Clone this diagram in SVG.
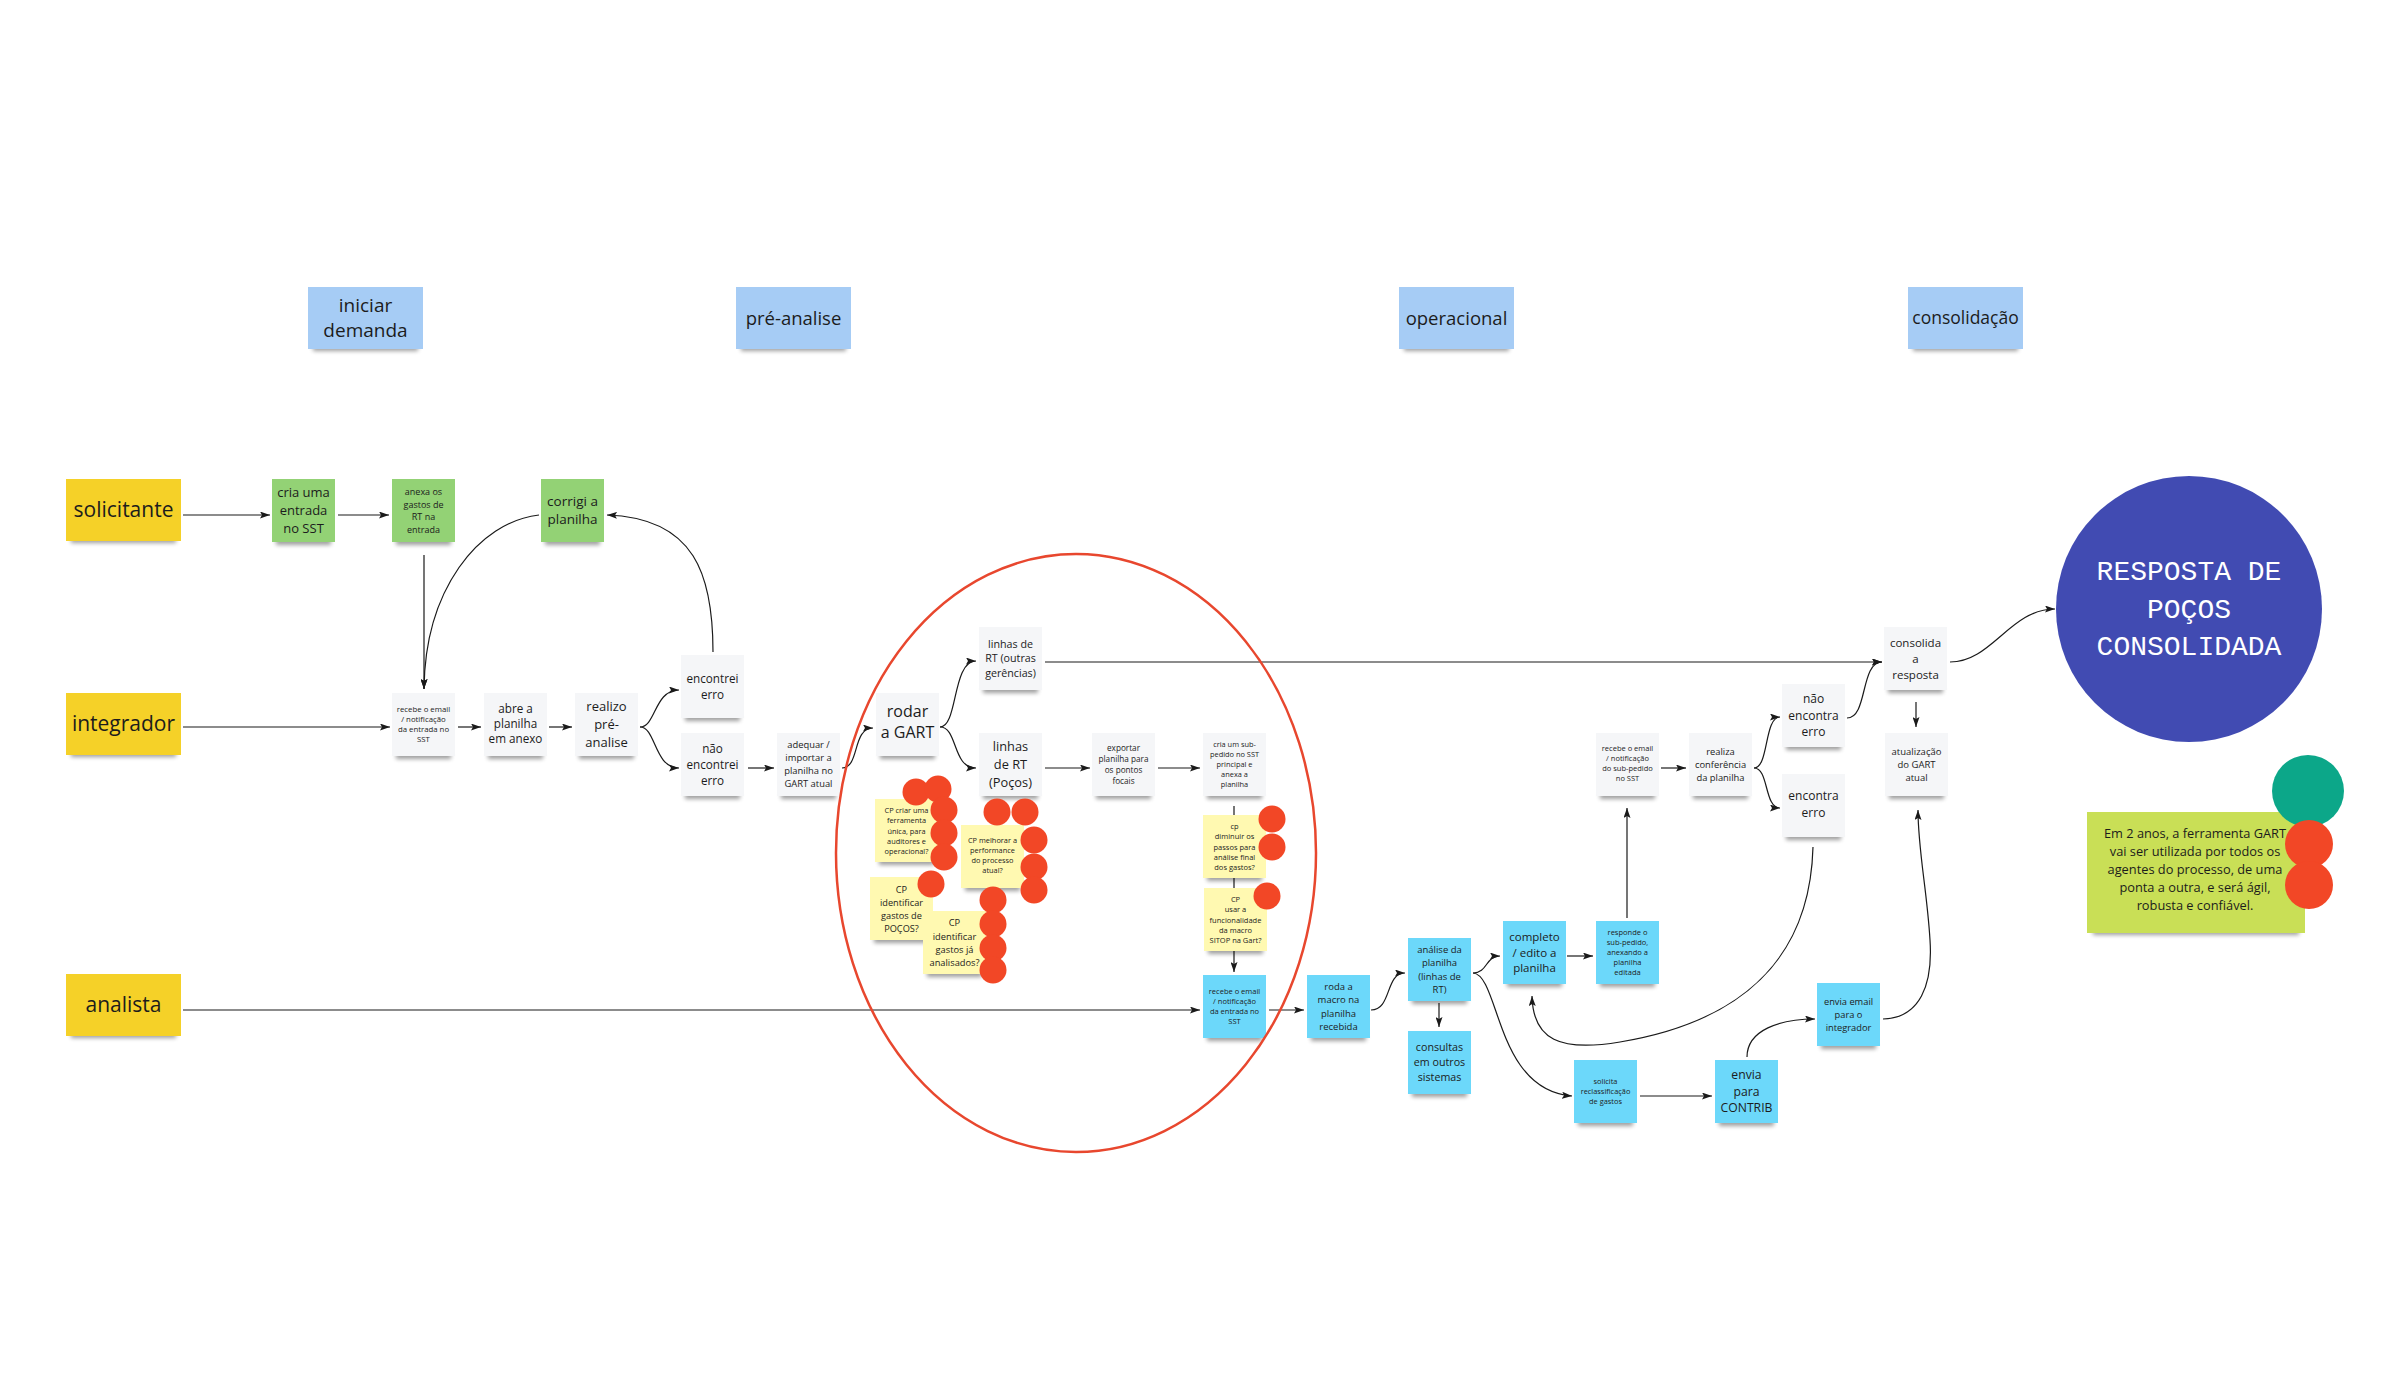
<svg xmlns="http://www.w3.org/2000/svg" width="2400" height="1400" viewBox="0 0 2400 1400">
<defs>
<style>
.t{font-family:"Open Sans","Liberation Sans",sans-serif;fill:#1c1c1c;text-anchor:middle}
.sh{fill:#000;opacity:.38;filter:url(#bl)}
.gr{fill:#f5f6f8}
.gn{fill:#93d275}
.ye{fill:#f5d128}
.hb{fill:#a6ccf5}
.cy{fill:#6cd8fa}
.ly{fill:#fff9b1}
.lm{fill:#c9df56}
.cn path,.cn line{fill:none;stroke:#1a1a1a;stroke-width:1.2;marker-end:url(#ar)}
.dot{fill:#f24726}
</style>
<filter id="bl" x="-20%" y="-100%" width="140%" height="300%"><feGaussianBlur stdDeviation="2.2"/></filter>
<marker id="ar" viewBox="0 0 10 7" refX="10" refY="3.5" markerWidth="10" markerHeight="7" markerUnits="userSpaceOnUse" orient="auto"><path d="M0,0 L10,3.5 L0,7 L2,3.5z" fill="#1a1a1a"/></marker>
</defs>
<rect width="2400" height="1400" fill="#fff"/>

<g id="connectors" class="cn">
<path d="M183,515 H270"/>
<path d="M338,515 H389"/>
<path d="M424,555 V689"/>
<path d="M539,515 C478,522 425,590 424,689"/>
<path d="M713,652 C713,575 695,518 607,515"/>
<path d="M183,727 H390"/>
<path d="M458,727 H481"/>
<path d="M549,727 H572"/>
<path d="M640,727 C656,727 654,690 679,690"/>
<path d="M640,727 C656,727 654,768 679,768"/>
<path d="M748,768 H774"/>
<path d="M842,768 C860,768 852,728 873,728"/>
<path d="M940,727 C958,727 952,661 976,661"/>
<path d="M940,727 C958,727 952,768 976,768"/>
<path d="M1045,662 H1882"/>
<path d="M1045,768 H1090"/>
<path d="M1158,768 H1200"/>
<path d="M1234,806 V972"/>
<path d="M183,1010 H1200"/>
<path d="M1269,1010 H1304"/>
<path d="M1371,1010 C1392,1010 1385,973 1405,973"/>
<path d="M1439,1003 V1027"/>
<path d="M1473,973 C1488,973 1485,956 1500,956"/>
<path d="M1473,973 C1500,975 1495,1090 1572,1096"/>
<path d="M1567,956 H1593"/>
<path d="M1627,918 V808"/>
<path d="M1661,768 H1686"/>
<path d="M1754,768 C1769,768 1764,717 1780,717"/>
<path d="M1754,768 C1769,768 1764,808 1780,808"/>
<path d="M1813,847 C1810,960 1740,1022 1620,1042 C1560,1052 1533,1040 1532,996"/>
<path d="M1847,718 C1868,718 1860,662 1882,662"/>
<path d="M1640,1096 H1712"/>
<path d="M1747,1057 C1747,1030 1780,1019 1815,1019"/>
<path d="M1883,1019 C1920,1018 1933,985 1930,940 C1927,890 1918,850 1918,810"/>
<path d="M1950,662 C1992,662 2010,609 2055,609"/>
<path d="M1916,702 V727"/>
</g>

<g id="hdr-iniciar"><rect class="sh" x="313" y="344" width="105" height="7"/><rect class="hb" x="308" y="287" width="115" height="62"/><text class="t" font-size="19"><tspan x="365.5" y="312">iniciar</tspan><tspan x="365.5" y="337">demanda</tspan></text></g>
<g id="hdr-pre"><rect class="sh" x="741" y="344" width="105" height="7"/><rect class="hb" x="736" y="287" width="115" height="62"/><text class="t" font-size="18.5" x="793.5" y="324.5">pré-analise</text></g>
<g id="hdr-oper"><rect class="sh" x="1404" y="344" width="105" height="7"/><rect class="hb" x="1399" y="287" width="115" height="62"/><text class="t" font-size="18.5" x="1456.5" y="324.5">operacional</text></g>
<g id="hdr-cons"><rect class="sh" x="1913" y="344" width="105" height="7"/><rect class="hb" x="1908" y="287" width="115" height="62"/><text class="t" font-size="17.5" x="1965.5" y="324">consolidação</text></g>

<g id="lane-solicitante"><rect class="sh" x="71" y="536" width="105" height="7"/><rect class="ye" x="66" y="479" width="115" height="62"/><text class="t" font-size="21" x="123.5" y="517">solicitante</text></g>
<g id="lane-integrador"><rect class="sh" x="71" y="750" width="105" height="7"/><rect class="ye" x="66" y="693" width="115" height="62"/><text class="t" font-size="21" x="123.5" y="731">integrador</text></g>
<g id="lane-analista"><rect class="sh" x="71" y="1031" width="105" height="7"/><rect class="ye" x="66" y="974" width="115" height="62"/><text class="t" font-size="21" x="123.5" y="1012">analista</text></g>

<g id="n-cria-entrada"><rect class="sh" x="276" y="538" width="55" height="7"/><rect class="gn" x="272" y="479" width="63" height="63"/><text class="t" font-size="13"><tspan x="303.5" y="497">cria uma</tspan><tspan x="303.5" y="515">entrada</tspan><tspan x="303.5" y="533">no SST</tspan></text></g>
<g id="n-anexa"><rect class="sh" x="396" y="538" width="55" height="7"/><rect class="gn" x="392" y="479" width="63" height="63"/><text class="t" font-size="9"><tspan x="423.5" y="495">anexa os</tspan><tspan x="423.5" y="507.5">gastos de</tspan><tspan x="423.5" y="520">RT na</tspan><tspan x="423.5" y="532.5">entrada</tspan></text></g>
<g id="n-corrigi"><rect class="sh" x="545" y="538" width="55" height="7"/><rect class="gn" x="541" y="479" width="63" height="63"/><text class="t" font-size="13.5"><tspan x="572.5" y="506">corrigi a</tspan><tspan x="572.5" y="524">planilha</tspan></text></g>

<g id="n-recebe-int"><rect class="sh" x="396" y="752" width="55" height="7"/><rect class="gr" x="392" y="693" width="63" height="63"/><text class="t" font-size="7.8"><tspan x="423.5" y="712">recebe o email</tspan><tspan x="423.5" y="722">/ notificação</tspan><tspan x="423.5" y="732">da entrada no</tspan><tspan x="423.5" y="742">SST</tspan></text></g>
<g id="n-abre"><rect class="sh" x="488" y="752" width="55" height="7"/><rect class="gr" x="484" y="693" width="63" height="63"/><text class="t" font-size="11.7"><tspan x="515.5" y="713">abre a</tspan><tspan x="515.5" y="728">planilha</tspan><tspan x="515.5" y="743">em anexo</tspan></text></g>
<g id="n-realizo"><rect class="sh" x="579" y="752" width="55" height="7"/><rect class="gr" x="575" y="693" width="63" height="63"/><text class="t" font-size="13"><tspan x="606.5" y="711">realizo</tspan><tspan x="606.5" y="729">pré-</tspan><tspan x="606.5" y="747">analise</tspan></text></g>
<g id="n-encontrei"><rect class="sh" x="685" y="714" width="55" height="7"/><rect class="gr" x="681" y="655" width="63" height="63"/><text class="t" font-size="11.7"><tspan x="712.5" y="682.5">encontrei</tspan><tspan x="712.5" y="698.5">erro</tspan></text></g>
<g id="n-nao-encontrei"><rect class="sh" x="685" y="792" width="55" height="7"/><rect class="gr" x="681" y="733" width="63" height="63"/><text class="t" font-size="11.7"><tspan x="712.5" y="752.5">não</tspan><tspan x="712.5" y="768.5">encontrei</tspan><tspan x="712.5" y="784.5">erro</tspan></text></g>
<g id="n-adequar"><rect class="sh" x="781" y="792" width="55" height="7"/><rect class="gr" x="777" y="733" width="63" height="63"/><text class="t" font-size="9.4"><tspan x="808.5" y="748.3">adequar /</tspan><tspan x="808.5" y="761.3">importar a</tspan><tspan x="808.5" y="774.3">planilha no</tspan><tspan x="808.5" y="787.3">GART atual</tspan></text></g>
<g id="n-rodar"><rect class="sh" x="880" y="752" width="55" height="7"/><rect class="gr" x="876" y="693" width="63" height="63"/><text class="t" font-size="16"><tspan x="907.5" y="717">rodar</tspan><tspan x="907.5" y="738">a GART</tspan></text></g>
<g id="n-outras"><rect class="sh" x="983" y="686" width="55" height="7"/><rect class="gr" x="979" y="627" width="63" height="63"/><text class="t" font-size="10.7"><tspan x="1010.5" y="647.7">linhas de</tspan><tspan x="1010.5" y="662.2">RT (outras</tspan><tspan x="1010.5" y="676.7">gerências)</tspan></text></g>
<g id="n-pocos"><rect class="sh" x="983" y="792" width="55" height="7"/><rect class="gr" x="979" y="733" width="63" height="63"/><text class="t" font-size="12.8"><tspan x="1010.5" y="751">linhas</tspan><tspan x="1010.5" y="769">de RT</tspan><tspan x="1010.5" y="787">(Poços)</tspan></text></g>
<g id="n-exportar"><rect class="sh" x="1096" y="792" width="55" height="7"/><rect class="gr" x="1092" y="733" width="63" height="63"/><text class="t" font-size="8.2"><tspan x="1123.5" y="751">exportar</tspan><tspan x="1123.5" y="762">planilha para</tspan><tspan x="1123.5" y="773">os pontos</tspan><tspan x="1123.5" y="784">focais</tspan></text></g>
<g id="n-cria-sub"><rect class="sh" x="1207" y="792" width="55" height="7"/><rect class="gr" x="1203" y="733" width="63" height="63"/><text class="t" font-size="7.4"><tspan x="1234.5" y="747">cria um sub-</tspan><tspan x="1234.5" y="757">pedido no SST</tspan><tspan x="1234.5" y="767">principal e</tspan><tspan x="1234.5" y="777">anexa a</tspan><tspan x="1234.5" y="787">planilha</tspan></text></g>

<g id="cp-ferramenta"><rect class="sh" x="879" y="858" width="55" height="7"/><rect class="ly" x="875" y="799" width="63" height="63"/><text class="t" font-size="7.4"><tspan x="906.5" y="813">CP criar uma</tspan><tspan x="906.5" y="823.4">ferramenta</tspan><tspan x="906.5" y="833.6">única, para</tspan><tspan x="906.5" y="843.8">auditores e</tspan><tspan x="906.5" y="854">operacional?</tspan></text></g>
<g id="cp-performance"><rect class="sh" x="965" y="884" width="55" height="7"/><rect class="ly" x="961" y="825" width="63" height="63"/><text class="t" font-size="7.4"><tspan x="992.5" y="842.5">CP melhorar a</tspan><tspan x="992.5" y="852.7">performance</tspan><tspan x="992.5" y="862.9">do processo</tspan><tspan x="992.5" y="873.1">atual?</tspan></text></g>
<g id="cp-pocos"><rect class="sh" x="874" y="936" width="55" height="7"/><rect class="ly" x="870" y="877" width="63" height="63"/><text class="t" font-size="9.2"><tspan x="901.5" y="892.7">CP</tspan><tspan x="901.5" y="905.7">identificar</tspan><tspan x="901.5" y="918.7">gastos de</tspan><tspan x="901.5" y="931.7">POÇOS?</tspan></text></g>
<g id="cp-analisados"><rect class="sh" x="927" y="970" width="55" height="7"/><rect class="ly" x="923" y="911" width="63" height="63"/><text class="t" font-size="9.3"><tspan x="954.5" y="926.3">CP</tspan><tspan x="954.5" y="939.6">identificar</tspan><tspan x="954.5" y="953">gastos já</tspan><tspan x="954.5" y="966.3">analisados?</tspan></text></g>
<g id="cp-passos"><rect class="sh" x="1207" y="874" width="55" height="7"/><rect class="ly" x="1203" y="815" width="63" height="63"/><text class="t" font-size="7.5"><tspan x="1234.5" y="829.2">cp</tspan><tspan x="1234.5" y="839.4">diminuir os</tspan><tspan x="1234.5" y="849.6">passos para</tspan><tspan x="1234.5" y="859.8">análise final</tspan><tspan x="1234.5" y="870">dos gastos?</tspan></text></g>
<g id="cp-sitop"><rect class="sh" x="1208" y="947" width="55" height="7"/><rect class="ly" x="1204" y="888" width="63" height="63"/><text class="t" font-size="7.5"><tspan x="1235.5" y="902.2">CP</tspan><tspan x="1235.5" y="912.4">usar a</tspan><tspan x="1235.5" y="922.6">funcionalidade</tspan><tspan x="1235.5" y="932.8">da macro</tspan><tspan x="1235.5" y="943">SITOP na Gart?</tspan></text></g>

<g id="n-recebe-ana"><rect class="sh" x="1207" y="1034" width="55" height="7"/><rect class="cy" x="1203" y="975" width="63" height="63"/><text class="t" font-size="7.5"><tspan x="1234.5" y="994">recebe o email</tspan><tspan x="1234.5" y="1004">/ notificação</tspan><tspan x="1234.5" y="1014">da entrada no</tspan><tspan x="1234.5" y="1024">SST</tspan></text></g>
<g id="n-roda-macro"><rect class="sh" x="1311" y="1034" width="55" height="7"/><rect class="cy" x="1307" y="975" width="63" height="63"/><text class="t" font-size="9.5"><tspan x="1338.5" y="989.8">roda a</tspan><tspan x="1338.5" y="1003.1">macro na</tspan><tspan x="1338.5" y="1016.5">planilha</tspan><tspan x="1338.5" y="1029.8">recebida</tspan></text></g>
<g id="n-analise"><rect class="sh" x="1412" y="997" width="55" height="7"/><rect class="cy" x="1408" y="938" width="63" height="63"/><text class="t" font-size="9.5"><tspan x="1439.5" y="952.8">análise da</tspan><tspan x="1439.5" y="966.1">planilha</tspan><tspan x="1439.5" y="979.5">(linhas de</tspan><tspan x="1439.5" y="992.8">RT)</tspan></text></g>
<g id="n-consultas"><rect class="sh" x="1412" y="1090" width="55" height="7"/><rect class="cy" x="1408" y="1031" width="63" height="63"/><text class="t" font-size="10.7"><tspan x="1439.5" y="1051.2">consultas</tspan><tspan x="1439.5" y="1066.2">em outros</tspan><tspan x="1439.5" y="1081.2">sistemas</tspan></text></g>
<g id="n-completo"><rect class="sh" x="1507" y="980" width="55" height="7"/><rect class="cy" x="1503" y="921" width="63" height="63"/><text class="t" font-size="11.5"><tspan x="1534.5" y="941">completo</tspan><tspan x="1534.5" y="956.5">/ edito a</tspan><tspan x="1534.5" y="972">planilha</tspan></text></g>
<g id="n-responde"><rect class="sh" x="1600" y="980" width="55" height="7"/><rect class="cy" x="1596" y="921" width="63" height="63"/><text class="t" font-size="7.5"><tspan x="1627.5" y="935">responde o</tspan><tspan x="1627.5" y="945">sub-pedido,</tspan><tspan x="1627.5" y="955">anexando a</tspan><tspan x="1627.5" y="965">planilha</tspan><tspan x="1627.5" y="975">editada</tspan></text></g>
<g id="n-recebe-sub"><rect class="sh" x="1600" y="792" width="55" height="7"/><rect class="gr" x="1596" y="733" width="63" height="63"/><text class="t" font-size="7.5"><tspan x="1627.5" y="751">recebe o email</tspan><tspan x="1627.5" y="761">/ notificação</tspan><tspan x="1627.5" y="771">do sub-pedido</tspan><tspan x="1627.5" y="781">no SST</tspan></text></g>
<g id="n-realiza"><rect class="sh" x="1693" y="792" width="55" height="7"/><rect class="gr" x="1689" y="733" width="63" height="63"/><text class="t" font-size="9.4"><tspan x="1720.5" y="754.5">realiza</tspan><tspan x="1720.5" y="767.8">conferência</tspan><tspan x="1720.5" y="781.1">da planilha</tspan></text></g>
<g id="n-nao-encontra"><rect class="sh" x="1786" y="743" width="55" height="7"/><rect class="gr" x="1782" y="684" width="63" height="63"/><text class="t" font-size="12"><tspan x="1813.5" y="703.2">não</tspan><tspan x="1813.5" y="719.7">encontra</tspan><tspan x="1813.5" y="736.2">erro</tspan></text></g>
<g id="n-encontra"><rect class="sh" x="1786" y="833" width="55" height="7"/><rect class="gr" x="1782" y="774" width="63" height="63"/><text class="t" font-size="12"><tspan x="1813.5" y="800">encontra</tspan><tspan x="1813.5" y="816.5">erro</tspan></text></g>
<g id="n-atualizacao"><rect class="sh" x="1889" y="792" width="55" height="7"/><rect class="gr" x="1885" y="733" width="63" height="63"/><text class="t" font-size="9.5"><tspan x="1916.5" y="754.5">atualização</tspan><tspan x="1916.5" y="767.8">do GART</tspan><tspan x="1916.5" y="781.1">atual</tspan></text></g>
<g id="n-consolida"><rect class="sh" x="1888" y="686" width="55" height="7"/><rect class="gr" x="1884" y="627" width="63" height="63"/><text class="t" font-size="11.5"><tspan x="1915.5" y="646.5">consolida</tspan><tspan x="1915.5" y="662.5">a</tspan><tspan x="1915.5" y="678.5">resposta</tspan></text></g>
<g id="n-solicita"><rect class="sh" x="1578" y="1119" width="55" height="7"/><rect class="cy" x="1574" y="1060" width="63" height="63"/><text class="t" font-size="7.4"><tspan x="1605.5" y="1084">solicita</tspan><tspan x="1605.5" y="1094">reclassificação</tspan><tspan x="1605.5" y="1104">de gastos</tspan></text></g>
<g id="n-contrib"><rect class="sh" x="1719" y="1119" width="55" height="7"/><rect class="cy" x="1715" y="1060" width="63" height="63"/><text class="t" font-size="12.2"><tspan x="1746.5" y="1079.3">envia</tspan><tspan x="1746.5" y="1095.8">para</tspan><tspan x="1746.5" y="1112.3">CONTRIB</tspan></text></g>
<g id="n-envia-email"><rect class="sh" x="1821" y="1042" width="55" height="7"/><rect class="cy" x="1817" y="983" width="63" height="63"/><text class="t" font-size="9.3"><tspan x="1848.5" y="1004.8">envia email</tspan><tspan x="1848.5" y="1017.8">para o</tspan><tspan x="1848.5" y="1030.8">integrador</tspan></text></g>

<g id="n-resposta"><circle cx="2189" cy="609" r="133" fill="#414bb2"/><text font-family="'Liberation Mono','DejaVu Sans Mono',monospace" font-size="28" fill="#fff" text-anchor="middle"><tspan x="2189" y="580">RESPOSTA DE</tspan><tspan x="2189" y="618">POÇOS</tspan><tspan x="2189" y="655">CONSOLIDADA</tspan></text></g>

<g id="n-visao"><rect class="sh" x="2093" y="927" width="206" height="8"/><rect class="lm" x="2087" y="812" width="218" height="121"/><text class="t" font-size="12.8"><tspan x="2195" y="837.5">Em 2 anos, a ferramenta GART</tspan><tspan x="2195" y="855.5">vai ser utilizada por todos os</tspan><tspan x="2195" y="873.5">agentes do processo, de uma</tspan><tspan x="2195" y="891.5">ponta a outra, e será ágil,</tspan><tspan x="2195" y="909.5">robusta e confiável.</tspan></text></g>

<ellipse id="destaque" cx="1076" cy="853" rx="240" ry="299" fill="none" stroke="#e8472e" stroke-width="2.5"/>

<g id="votos">
<circle class="dot" cx="916" cy="792" r="13.5"/>
<circle class="dot" cx="938" cy="789" r="13.5"/>
<circle class="dot" cx="944" cy="810" r="13.5"/>
<circle class="dot" cx="944" cy="833" r="13.5"/>
<circle class="dot" cx="944" cy="857" r="13.5"/>
<circle class="dot" cx="931" cy="884" r="13.5"/>
<circle class="dot" cx="997" cy="812" r="13.5"/>
<circle class="dot" cx="1025" cy="812" r="13.5"/>
<circle class="dot" cx="1034" cy="840" r="13.5"/>
<circle class="dot" cx="1034" cy="867" r="13.5"/>
<circle class="dot" cx="1034" cy="890" r="13.5"/>
<circle class="dot" cx="993" cy="900" r="13.5"/>
<circle class="dot" cx="993" cy="924" r="13.5"/>
<circle class="dot" cx="993" cy="948" r="13.5"/>
<circle class="dot" cx="993" cy="970" r="13.5"/>
<circle class="dot" cx="1272" cy="819" r="13.5"/>
<circle class="dot" cx="1272" cy="847" r="13.5"/>
<circle class="dot" cx="1267" cy="896" r="13.5"/>
<circle cx="2308" cy="791" r="36" fill="#0ca789"/>
<circle class="dot" cx="2309" cy="844" r="24"/>
<circle class="dot" cx="2309" cy="885" r="24"/>
</g>
</svg>
